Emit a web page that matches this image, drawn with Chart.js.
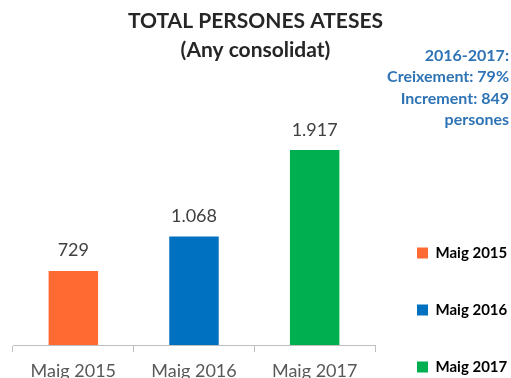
<!DOCTYPE html>
<html>
<head>
<meta charset="utf-8">
<script src="https://cdn.jsdelivr.net/npm/chart.js@4"></script>
<style>
  html, body { margin: 0; padding: 0; background: #ffffff; overflow: hidden; }
  #wrap { position: relative; width: 511px; height: 420px; }
</style>
</head>
<body>
<div id="wrap"><canvas id="chart"></canvas></div>
<script>
// Persones ateses per any (maig de cada any)
const categories = ['Maig 2015', 'Maig 2016', 'Maig 2017'];
const personesAteses = [729, 1068, 1917];
const barColors = ['#FF6A33', '#0070C0', '#00B050'];
const titleLines = ['TOTAL PERSONES ATESES', '(Any consolidat)'];
const noteLines = ['2016-2017:', 'Creixement: 79%', 'Increment: 849', 'persones'];

// Catalan thousands separator: 1068 -> "1.068"
const fmt = n => String(n).replace(/\B(?=(\d{3})+(?!\d))/g, '.');

// Value labels above each bar, placed from the bar elements
const valueLabels = {
  id: 'valueLabels',
  afterDatasetsDraw(chart) {
    const ctx = chart.ctx;
    const meta = chart.getDatasetMeta(0);
    const data = chart.data.datasets[0].data;
    ctx.save();
    ctx.font = '18px Lato';
    ctx.fillStyle = '#404040';
    ctx.textAlign = 'center';
    ctx.textBaseline = 'alphabetic';
    meta.data.forEach((bar, i) => {
      ctx.fillText(fmt(data[i]), bar.x, bar.y - 14.5);
    });
    ctx.restore();
  }
};

// Growth note in the upper right corner
const growthNote = {
  id: 'growthNote',
  afterDraw(chart) {
    const ctx = chart.ctx;
    ctx.save();
    ctx.font = 'bold 16px Lato';
    ctx.fillStyle = '#2E74B5';
    ctx.textAlign = 'right';
    ctx.textBaseline = 'middle';
    noteLines.forEach((line, i) => {
      ctx.fillText(line, 509, 56 + i * 21.3);
    });
    ctx.restore();
  }
};

new Chart(document.getElementById('chart'), {
  type: 'bar',
  data: {
    labels: categories,
    datasets: [{
      label: 'Persones ateses',
      data: personesAteses,
      backgroundColor: barColors,
      borderWidth: 0,
      barPercentage: 0.41,
      categoryPercentage: 1.0
    }]
  },
  options: {
    responsive: true,
    maintainAspectRatio: false,
    animation: false,
    layout: { padding: { left: 0, right: 0, top: 0, bottom: 3.5 } },
    scales: {
      x: {
        offset: true,
        grid: { offset: true, drawOnChartArea: false, drawTicks: true, tickLength: 7, color: '#BFBFBF', lineWidth: 1 },
        border: { display: true, color: '#BFBFBF', width: 1 },
        ticks: { color: '#595959', font: { family: 'Lato', size: 18 }, padding: 8, maxRotation: 0, autoSkip: false },
        afterFit: s => { s.height = 71.5; }
      },
      y: {
        display: true,
        min: 0,
        max: 2400,
        ticks: { display: false },
        grid: { display: false, drawTicks: false },
        border: { display: false },
        afterFit: s => { s.width = 13; }
      }
    },
    plugins: {
      title: {
        display: true,
        text: titleLines,
        color: '#262626',
        font: { family: 'Lato', size: 21, weight: 'bold', lineHeight: 29 / 21 },
        padding: { top: 7, bottom: 36 }
      },
      legend: {
        display: true,
        position: 'right',
        align: 'end',
        maxWidth: 136,
        labels: {
          boxWidth: 11,
          boxHeight: 11,
          padding: 42,
          color: '#404040',
          font: { family: 'Lato', size: 15, weight: 'bold' },
          generateLabels: chart => chart.data.labels.map((lbl, i) => ({
            text: lbl,
            fillStyle: chart.data.datasets[0].backgroundColor[i],
            strokeStyle: chart.data.datasets[0].backgroundColor[i],
            lineWidth: 0,
            hidden: false,
            index: i
          }))
        }
      },
      tooltip: { enabled: false }
    }
  },
  plugins: [valueLabels, growthNote]
});
</script>
</body>
</html>
